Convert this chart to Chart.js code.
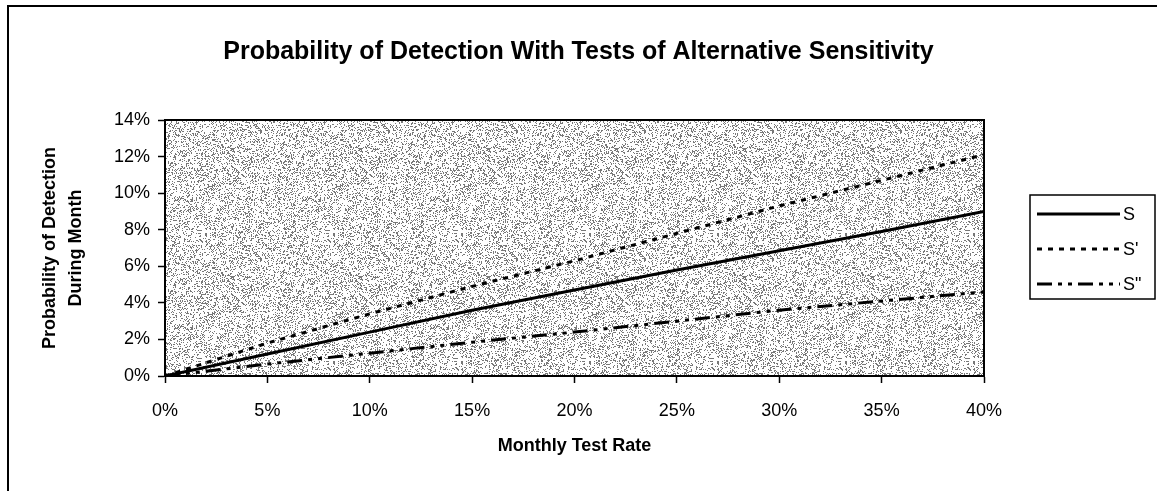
<!DOCTYPE html>
<html>
<head>
<meta charset="utf-8">
<script src="https://cdn.jsdelivr.net/npm/chart.js@4.4.1/dist/chart.umd.min.js"></script>
<style>
html, body { margin: 0; padding: 0; background: #fff; }
#wrap { width: 1157px; height: 491px; position: relative; }
</style>
</head>
<body>
<div id="wrap"><canvas id="chart"></canvas></div>
<script>
// values (percent)
var testRates = [0, 5, 10, 15, 20, 25, 30, 35, 40];
var sValues = [0, 1.2, 2.4, 3.6, 4.7, 5.8, 6.85, 7.9, 9.0];
var sPrimeValues = [0, 1.8, 3.4, 4.9, 6.3, 7.8, 9.3, 10.7, 12.1];
var sDoublePrimeValues = [0, 0.65, 1.25, 1.85, 2.4, 3.0, 3.6, 4.1, 4.6];
var seriesNames = ['S', "S'", 'S"'];
var xTicks = [0, 5, 10, 15, 20, 25, 30, 35, 40];
var yTicks = [0, 2, 4, 6, 8, 10, 12, 14];

var FONT = 'Arial, "Liberation Sans", Helvetica, sans-serif';

function points(ys) {
    return testRates.map(function (x, i) { return { x: x, y: ys[i] }; });
}

// grey stipple like the old printout
function makeStipple(ctx) {
    var size = 128;
    var c = document.createElement('canvas');
    c.width = size; c.height = size;
    var g = c.getContext('2d');
    var img = g.createImageData(size, size);
    for (var i = 0; i < size * size; i++) {
        var h = Math.imul(i ^ 0x9e3779b9, 0x85ebca6b);
        h ^= h >>> 13;
        h = Math.imul(h, 0xc2b2ae35);
        h ^= h >>> 16;
        var v = (h >>> 0) / 4294967296;
        var c0 = v < 0.25 ? 120 : 255;
        img.data[i * 4] = c0;
        img.data[i * 4 + 1] = c0;
        img.data[i * 4 + 2] = c0;
        img.data[i * 4 + 3] = 255;
    }
    g.putImageData(img, 0, 0);
    return ctx.createPattern(c, 'repeat');
}

var frame = {
    id: 'frame',
    beforeDraw: function (chart) {
        var ctx = chart.ctx, a = chart.chartArea;
        ctx.save();
        ctx.fillStyle = '#fff';
        ctx.fillRect(0, 0, chart.width, chart.height);
        ctx.fillStyle = makeStipple(ctx);
        ctx.fillRect(a.left, a.top, a.right - a.left, a.bottom - a.top);
        // outer border (left + top)
        ctx.strokeStyle = '#000';
        ctx.lineWidth = 2;
        ctx.beginPath();
        ctx.moveTo(8, chart.height);
        ctx.lineTo(8, 6);
        ctx.lineTo(chart.width, 6);
        ctx.stroke();
        ctx.restore();
    },
    afterDraw: function (chart) {
        var ctx = chart.ctx, a = chart.chartArea;
        ctx.save();
        ctx.strokeStyle = '#000';
        ctx.lineWidth = 2;
        ctx.strokeRect(a.left, a.top, a.right - a.left, a.bottom - a.top);

        // legend box
        var box = { left: 1030, top: 195, right: 1155, bottom: 299 };
        ctx.lineWidth = 1.5;
        ctx.strokeRect(box.left, box.top, box.right - box.left, box.bottom - box.top);
        ctx.font = '18px ' + FONT;
        ctx.fillStyle = '#000';
        ctx.textBaseline = 'middle';
        chart.data.datasets.forEach(function (ds, i) {
            var y = 214 + i * 35;
            ctx.lineWidth = ds.borderWidth;
            ctx.setLineDash(ds.borderDash || []);
            ctx.beginPath();
            ctx.moveTo(1037, y);
            ctx.lineTo(1120, y);
            ctx.stroke();
            ctx.setLineDash([]);
            ctx.fillText(ds.label, 1123, y + 1);
        });
        ctx.restore();
    }
};

var ctx = document.getElementById('chart');
new Chart(ctx, {
    type: 'line',
    data: {
        datasets: [
            { label: seriesNames[0], data: points(sValues), borderColor: '#000', borderWidth: 3, borderDash: [] },
            { label: seriesNames[1], data: points(sPrimeValues), borderColor: '#000', borderWidth: 3, borderDash: [5, 6] },
            { label: seriesNames[2], data: points(sDoublePrimeValues), borderColor: '#000', borderWidth: 3, borderDash: [15, 6, 4, 6, 4, 6] }
        ]
    },
    options: {
        responsive: true,
        maintainAspectRatio: false,
        animation: false,
        elements: { point: { radius: 0 }, line: { tension: 0 } },
        layout: { padding: 0 },
        plugins: {
            legend: { display: false },
            tooltip: { enabled: false },
            title: {
                display: true,
                text: 'Probability of Detection With Tests of Alternative Sensitivity',
                color: '#000',
                font: { family: FONT, size: 25, weight: 'bold' },
                padding: { top: 37, bottom: 53 }
            }
        },
        scales: {
            x: {
                type: 'linear',
                min: 0, max: 40,
                afterBuildTicks: function (s) { s.ticks = xTicks.map(function (v) { return { value: v }; }); },
                afterFit: function (s) { s.height = 115; },
                ticks: {
                    color: '#000',
                    font: { family: FONT, size: 18 },
                    padding: 17,
                    maxRotation: 0,
                    callback: function (v) { return v + '%'; }
                },
                grid: { drawOnChartArea: false, color: '#000', tickLength: 7, tickWidth: 1.5 },
                border: { color: '#000', width: 2 },
                title: {
                    display: true,
                    text: 'Monthly Test Rate',
                    color: '#000',
                    font: { family: FONT, size: 18, weight: 'bold' },
                    padding: { top: 0, bottom: 34 }
                }
            },
            y: {
                min: 0, max: 14,
                afterBuildTicks: function (s) { s.ticks = yTicks.map(function (v) { return { value: v }; }); },
                afterFit: function (s) { s.width = 165; },
                ticks: {
                    color: '#000',
                    font: { family: FONT, size: 18 },
                    padding: 8,
                    callback: function (v) { return v + '%'; }
                },
                grid: { drawOnChartArea: false, color: '#000', tickLength: 7, tickWidth: 1.5 },
                border: { color: '#000', width: 2 },
                title: {
                    display: true,
                    text: ['Probability of Detection', 'During Month'],
                    color: '#000',
                    font: { family: FONT, size: 18, weight: 'bold', lineHeight: 1.45 },
                    padding: { top: 37, bottom: 0 }
                }
            },
            // empty right-hand band that holds the legend
            legendBand: {
                type: 'linear',
                position: 'right',
                ticks: { display: false },
                grid: { display: false },
                border: { display: false },
                afterFit: function (s) { s.width = 173; }
            }
        }
    },
    plugins: [frame]
});
</script>
</body>
</html>
